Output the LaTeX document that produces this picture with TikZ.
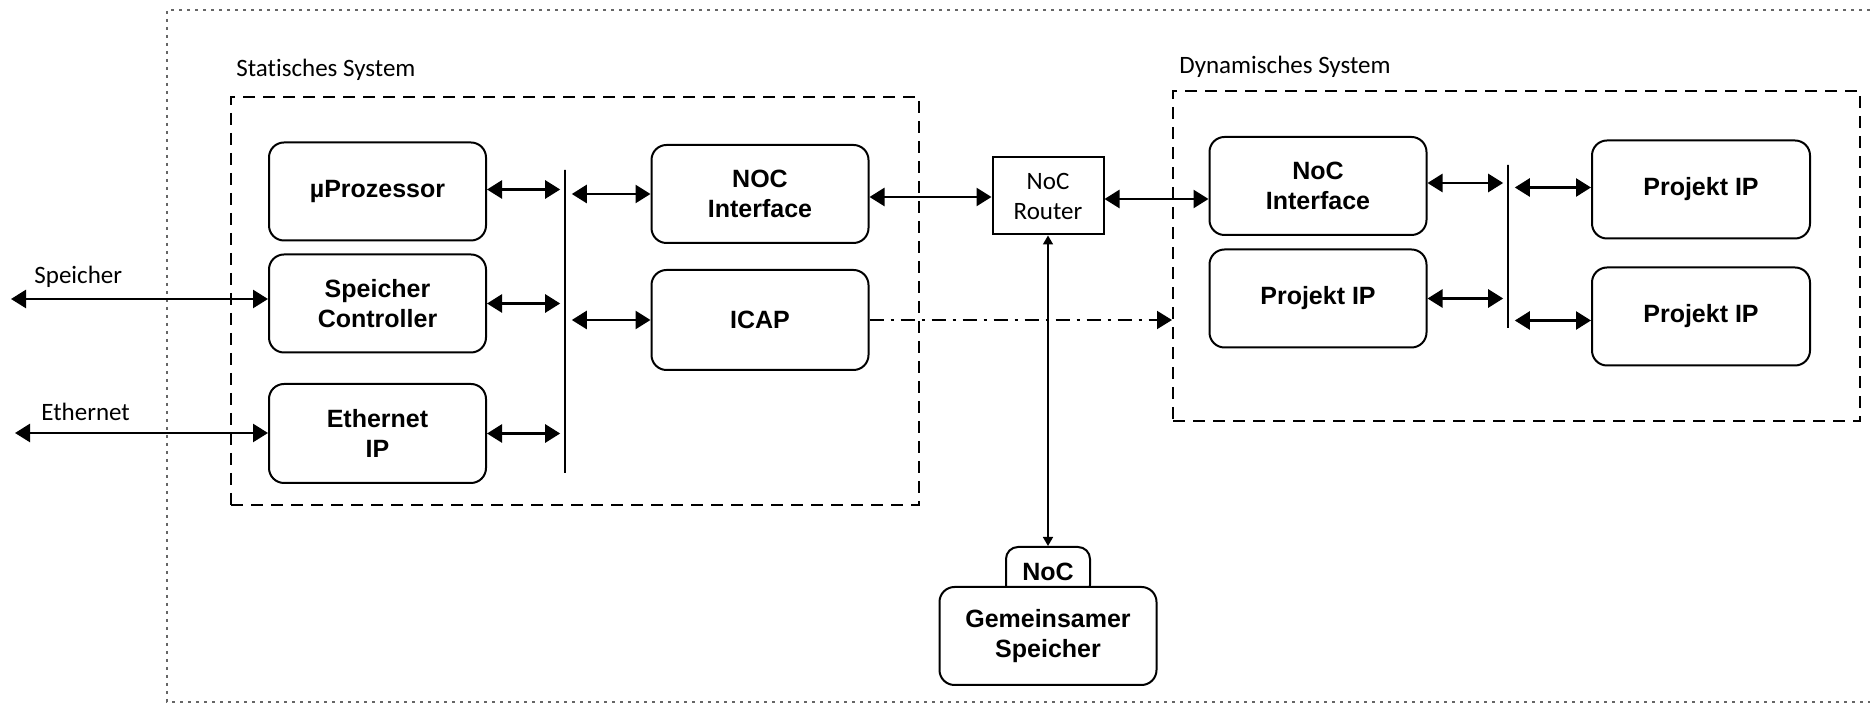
\documentclass[tikz,border=0pt]{standalone}
\usepackage{fontspec}
\setmainfont{Liberation Sans}
\newfontfamily\lblfont[Ligatures=NoCommon]{Carlito}
\usetikzlibrary{arrows.meta}

\begin{document}
\begin{tikzpicture}[x=0.5pt,y=-0.5pt,
  blk/.style={draw,line width=1pt,rounded corners=7.5pt,align=center,inner sep=0pt,
    minimum width=108.5pt,minimum height=49pt,font=\bfseries\fontsize{12.5}{15}\selectfont},
  sysbox/.style={draw,line width=1pt,dash pattern=on 6pt off 4pt,inner sep=0pt},
  bus/.style={draw,line width=0.8pt,inner sep=0pt,minimum width=0pt},
  biarrow/.style={{Triangle[length=7.5pt,width=9pt]}-{Triangle[length=7.5pt,width=9pt]},line width=1.3pt},
  lbl/.style={font=\lblfont\fontsize{12.5}{15}\selectfont,anchor=west,inner sep=0pt}]
\useasboundingbox (0,0) rectangle (1870,704);
% outer frame, open to the right
\draw[gray!80!black,line width=0.6pt,dash pattern=on 1.5pt off 2.5pt] (1870,10) -| (167,702) -- (1870,702);

% system boxes
\node[sysbox,minimum width=344pt,minimum height=204pt] (statsys) at (575,301) {};
\node[sysbox,minimum width=343.5pt,minimum height=165pt] (dynsys) at (1516.5,256) {};
\node[lbl] (statlbl) at (236,70) {Statisches System};
\node[lbl] (dynlbl) at (1179,67) {Dynamisches System};

% static part
\node[blk] (uproc) at (377.5,191.5) {µProzessor};
\node[blk] (spctrl) at (377.5,303.5) {Speicher\\Controller};
\node[blk,minimum height=49.5pt] (ethip) at (377.5,433.5) {Ethernet\\IP};
\node[blk] (nocif) at (760,194) {NOC\\Interface};
\node[blk,minimum height=50pt] (icap) at (760,320) {ICAP};
\node[bus,minimum height=151.5pt] (sbus) at (565,321.5) {};

% router
\node[draw,line width=1pt,minimum width=55.5pt,minimum height=38.5pt,inner sep=0pt,align=center,
  font=\lblfont\fontsize{12.5}{15}\selectfont] (router) at (1048,196) {NoC\\Router};

% dynamic part
\node[blk] (dnocif) at (1318,186) {NoC\\Interface};
\node[blk] (dpip) at (1318,298.5) {Projekt IP};
\node[blk,minimum width=109pt] (pip1) at (1701,189.5) {Projekt IP};
\node[blk,minimum width=109pt] (pip2) at (1701,316.5) {Projekt IP};
\node[bus,minimum height=81.5pt] (dbus) at (1508,246.5) {};

% shared memory
\node[blk,minimum width=42pt,minimum height=25pt,rounded corners=6pt] (tab) at (1048,572) {NoC};
\node[blk,fill=white] (gem) at (1048,636) {Gemeinsamer\\Speicher};

% outside
\coordinate (spext) at (11,299);
\coordinate (ethext) at (15,433);
\node[lbl] (splbl) at (34,277) {Speicher};
\node[lbl] (ethlbl) at (41,412) {Ethernet};

% connections
\draw[biarrow] (spext) -- (spext -| spctrl.west);
\draw[biarrow] (ethext) -- (ethext -| ethip.west);
\draw[biarrow,shorten >=2pt] ([yshift=1pt]uproc.east) -- ([yshift=1pt]uproc.east -| sbus.west);
\draw[biarrow,shorten >=2pt] (spctrl.east) -- (spctrl.east -| sbus.west);
\draw[biarrow,shorten >=2pt] (ethip.east) -- (ethip.east -| sbus.west);
\draw[biarrow,shorten <=3pt] (nocif.west -| sbus.east) -- (nocif.west);
\draw[biarrow,shorten <=3pt] (icap.west -| sbus.east) -- (icap.west);
\draw[biarrow] ([yshift=-1.5pt]nocif.east) -- ([yshift=-1.5pt]nocif.east -| router.west);
\draw[biarrow] ([yshift=-1.5pt]router.east) -- ([yshift=-1.5pt]router.east -| dnocif.west);
\draw[-{Triangle[length=7.5pt,width=9pt]},line width=1pt,dash pattern=on 7pt off 3.5pt on 1.5pt off 3.5pt]
  (icap.east) -- (icap.east -| dynsys.west);
\draw[{Triangle[length=4.5pt,width=5pt]}-{Triangle[length=4.5pt,width=5pt]},line width=0.8pt] (router.south) -- (tab.north);
\draw[biarrow,shorten >=2pt] ([yshift=1.5pt]dnocif.east) -- ([yshift=1.5pt]dnocif.east -| dbus.west);
\draw[biarrow,shorten >=2pt] (dpip.east) -- (dpip.east -| dbus.west);
\draw[biarrow,shorten <=3pt] ([yshift=1pt]pip1.west -| dbus.east) -- ([yshift=1pt]pip1.west);
\draw[biarrow,shorten <=3pt] ([yshift=-2pt]pip2.west -| dbus.east) -- ([yshift=-2pt]pip2.west);
\end{tikzpicture}
\end{document}
